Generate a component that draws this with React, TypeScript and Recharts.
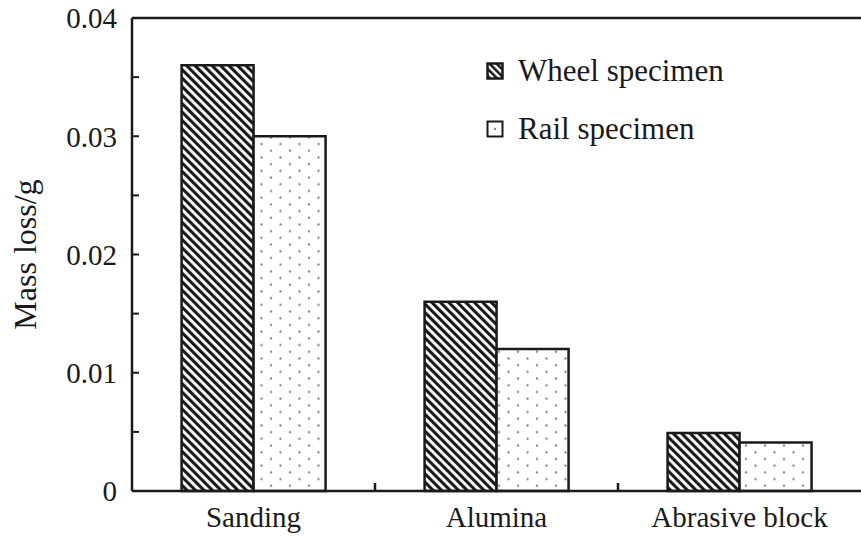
import React from "react";
import { BarChart, Bar, XAxis, YAxis } from "recharts";

const CATEGORIES = ["Sanding", "Alumina", "Abrasive block"];
const WHEEL = [0.036, 0.016, 0.0049];
const RAIL = [0.03, 0.012, 0.0041];
const Y_TICKS = [0, 0.005, 0.01, 0.015, 0.02, 0.025, 0.03, 0.035, 0.04];
const LEGEND_ITEMS = ["Wheel specimen", "Rail specimen"];

const FONT = "'Liberation Serif', 'Times New Roman', serif";
const INK = "#1a1a1a";

const W = 861;
const H = 536;
const Y_AXIS_W = 132;
const X_AXIS_H = 45;
const TOP = 17;
const PLOT_BOTTOM = H - X_AXIS_H;
const BAND = (W - Y_AXIS_W) / CATEGORIES.length;

const data = CATEGORIES.map((name, i) => ({ name, wheel: WHEEL[i], rail: RAIL[i] }));

const fmtY = (v: number) => {
  const h = v * 100;
  if (Math.abs(h - Math.round(h)) > 1e-9) return "";
  return v === 0 ? "0" : String(Number(v.toFixed(2)));
};

// category label plus a short upward tick at the left boundary of each band (except the first)
function CatTick(props: any) {
  const { x, y, index, payload } = props;
  const bx = x - BAND / 2;
  return (
    <g>
      {index > 0 && (
        <line x1={bx} x2={bx} y1={PLOT_BOTTOM} y2={PLOT_BOTTOM - 8} stroke={INK} strokeWidth={2.5} />
      )}
      <text x={x} y={y} dy="0.71em" textAnchor="middle" fill={INK} fontSize={29} fontFamily={FONT}>
        {payload.value}
      </text>
    </g>
  );
}

function LegendBox() {
  return (
    <div style={{ position: "absolute", left: 486, top: 42, fontFamily: FONT, fontSize: 31, color: INK }}>
      {LEGEND_ITEMS.map((label, i) => (
        <div key={label} style={{ display: "flex", alignItems: "center", height: 58 }}>
          <svg width={18} height={18} style={{ marginRight: 14 }}>
            {i === 0 ? (
              <>
                <defs>
                  <pattern id="lgHatch" width={5} height={5} patternUnits="userSpaceOnUse" patternTransform="rotate(-45)">
                    <rect width={5} height={5} fill="#fff" />
                    <rect width={2.6} height={5} fill={INK} />
                  </pattern>
                </defs>
                <rect x={1.5} y={1.5} width={15} height={15} fill="url(#lgHatch)" stroke={INK} strokeWidth={2.5} />
              </>
            ) : (
              <>
                <rect x={1.5} y={1.5} width={15} height={15} fill="#fff" stroke={INK} strokeWidth={2} />
                <circle cx={9} cy={9} r={1.2} fill="#888" />
              </>
            )}
          </svg>
          <span>{label}</span>
        </div>
      ))}
    </div>
  );
}

export default function App() {
  return (
    <div style={{ position: "absolute", left: 0, top: 0, width: W, height: H, background: "#fff" }}>
      <BarChart
        width={W}
        height={H}
        data={data}
        margin={{ top: TOP, right: 0, bottom: 0, left: 0 }}
        barCategoryGap="20.4%"
        barGap={0}
      >
        <defs>
          <pattern id="hatch" width={6} height={6} patternUnits="userSpaceOnUse" patternTransform="rotate(-45)">
            <rect width={6} height={6} fill="#fff" />
            <rect width={3.1} height={6} fill={INK} />
          </pattern>
          <pattern id="dots" width={19} height={13.4} patternUnits="userSpaceOnUse">
            <rect width={19} height={13.4} fill="#fff" />
            <circle cx={5} cy={3.4} r={1.2} fill="#8a8a8a" />
            <circle cx={14.5} cy={10.1} r={1.2} fill="#8a8a8a" />
          </pattern>
        </defs>
        <XAxis
          dataKey="name"
          height={X_AXIS_H}
          tickLine={false}
          tickMargin={9}
          interval={0}
          axisLine={{ stroke: INK, strokeWidth: 2.5 }}
          tick={CatTick}
        />
        <XAxis
          xAxisId="top"
          orientation="top"
          dataKey="name"
          height={1}
          tick={false}
          tickLine={false}
          axisLine={{ stroke: INK, strokeWidth: 2.5 }}
        />
        <YAxis
          width={Y_AXIS_W}
          domain={[0, 0.04]}
          ticks={Y_TICKS}
          interval={0}
          tickFormatter={fmtY}
          tickSize={-7}
          tickMargin={22}
          axisLine={{ stroke: INK, strokeWidth: 2.5 }}
          tickLine={{ stroke: INK, strokeWidth: 2 }}
          tick={{ fill: INK, fontSize: 29, fontFamily: FONT }}
          label={({ viewBox }: any) => (
            <text
              x={viewBox.x + 25}
              y={viewBox.y + viewBox.height / 2}
              transform={`rotate(-90 ${viewBox.x + 25} ${viewBox.y + viewBox.height / 2})`}
              textAnchor="middle"
              dominantBaseline="central"
              fill={INK}
              fontSize={32}
              fontFamily={FONT}
            >
              Mass loss/g
            </text>
          )}
        />
        <Bar dataKey="wheel" fill="url(#hatch)" stroke={INK} strokeWidth={2.5} isAnimationActive={false} />
        <Bar dataKey="rail" fill="url(#dots)" stroke={INK} strokeWidth={2.5} isAnimationActive={false} />
      </BarChart>
      <LegendBox />
    </div>
  );
}
